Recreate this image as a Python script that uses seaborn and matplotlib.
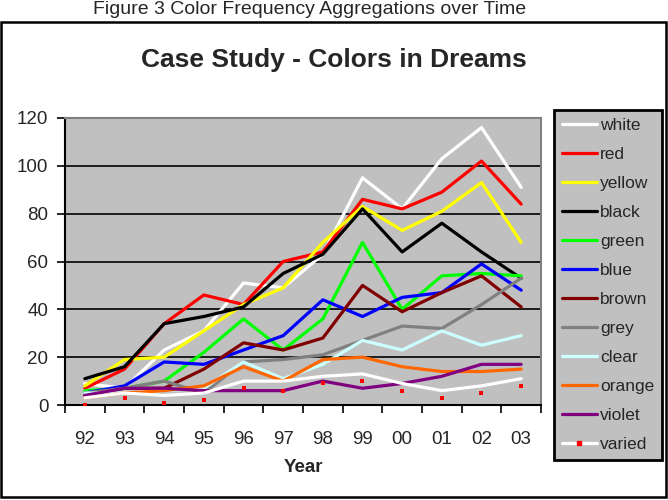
import numpy as np
import pandas as pd
import seaborn as sns
import matplotlib.pyplot as plt
from matplotlib.lines import Line2D
from matplotlib.patches import Rectangle

years = ["92", "93", "94", "95", "96", "97", "98", "99", "00", "01", "02", "03"]

white = [9, 7, 23, 31, 51, 49, 63, 95, 82, 103, 116, 91]
red = [7, 15, 34, 46, 42, 60, 64, 86, 82, 89, 102, 84]
yellow = [8, 19, 20, 31, 42, 49, 68, 83, 73, 81, 93, 68]
black = [11, 16, 34, 37, 41, 55, 63, 82, 64, 76, 64, 53]
green = [6, 7, 10, 22, 36, 23, 36, 68, 40, 54, 55, 54]
blue = [5, 8, 18, 17, 23, 29, 44, 37, 45, 47, 59, 48]
brown = [4, 7, 7, 15, 26, 23, 28, 50, 39, 47, 54, 41]
grey = [5, 7, 10, 5, 18, 19, 21, 27, 33, 32, 42, 53]
clear = [5, 5, 6, 7, 18, 11, 17, 27, 23, 31, 25, 29]
orange = [3, 5, 6, 8, 16, 10, 19, 20, 16, 14, 14, 15]
violet = [4, 7, 7, 6, 6, 6, 10, 7, 9, 12, 17, 17]
varied = [3, 5, 4, 5, 10, 10, 12, 13, 9, 6, 8, 11]
varied_marks = [0, 3, 1, 2, 7, 6, 9, 10, 6, 3, 5, 8]

series = {
    "white": white, "red": red, "yellow": yellow, "black": black,
    "green": green, "blue": blue, "brown": brown, "grey": grey,
    "clear": clear, "orange": orange, "violet": violet, "varied": varied,
}
palette = {
    "white": "#FFFFFF", "red": "#FF0000", "yellow": "#FFFF00", "black": "#000000",
    "green": "#00FF00", "blue": "#0000FF", "brown": "#800000", "grey": "#808080",
    "clear": "#CCFFFF", "orange": "#FF6600", "violet": "#800080", "varied": "#FFFFFF",
}

rows = []
for name, vals in series.items():
    for i, v in enumerate(vals):
        rows.append({"pos": i, "count": v, "color": name})
df = pd.DataFrame(rows)
marks = pd.DataFrame({"pos": np.arange(len(years)), "count": varied_marks})

sns.set_style("white")
plt.rcParams["font.family"] = ["Liberation Sans", "DejaVu Sans"]

fig = plt.figure(figsize=(6.68, 5), dpi=100)
ax = fig.add_axes([65 / 668, 95 / 500, 476 / 668, 287 / 500])
ax.set_facecolor("#C0C0C0")

sns.lineplot(data=df, x="pos", y="count", hue="color", palette=palette,
             hue_order=list(series.keys()), linewidth=2.3, legend=False, ax=ax)
sns.scatterplot(data=marks, x="pos", y="count", color="#FF0000", marker="s",
                s=7, linewidth=0, legend=False, ax=ax, zorder=5)

ax.set_xlim(-0.5, len(years) - 0.5)
ax.set_ylim(0, 120)
ax.set_yticks(range(0, 121, 20))
ax.yaxis.grid(True, color="black", linewidth=1.2)
ax.set_axisbelow(True)
ax.set_xticks(np.arange(-0.5, len(years), 1.0))
ax.set_xticklabels([])
ax.set_xticks(np.arange(len(years)), minor=True)
ax.set_xticklabels(years, minor=True)
ax.tick_params(axis="x", which="major", direction="out", length=6, width=1.2, color="black")
ax.tick_params(axis="x", which="minor", length=0, pad=19, labelsize=13.5)
ax.tick_params(axis="y", direction="out", length=6, width=1.2, color="black", labelsize=13.5, pad=6)
ax.tick_params(left=True, bottom=True)

for side in ["top", "right"]:
    ax.spines[side].set_color("#808080")
    ax.spines[side].set_linewidth(1.5)
for side in ["left", "bottom"]:
    ax.spines[side].set_color("black")
    ax.spines[side].set_linewidth(1.5)

ax.set_xlabel("Year", fontsize=13.5, fontweight="bold", labelpad=8)
ax.set_ylabel("")

handles = []
for name in series:
    if name == "varied":
        handles.append(Line2D([], [], color=palette[name], linewidth=2.3,
                              marker="s", markersize=2.5, markerfacecolor="#FF0000",
                              markeredgecolor="#FF0000"))
    else:
        handles.append(Line2D([], [], color=palette[name], linewidth=2.3))

leg = fig.legend(handles, list(series.keys()), loc="upper left",
                 bbox_to_anchor=(554 / 668, 1 - 110 / 500), fontsize=12.5,
                 frameon=True, fancybox=False, labelspacing=0.8,
                 handlelength=2.0, handletextpad=0.2, borderpad=0.45,
                 borderaxespad=0)
leg.get_frame().set_facecolor("#C0C0C0")
leg.get_frame().set_edgecolor("black")
leg.get_frame().set_linewidth(2)
leg.get_frame().set_alpha(1)

fig.text(310 / 668, 1 - 10 / 500, "Figure 3 Color Frequency Aggregations over Time",
         ha="center", va="center", fontsize=14)
fig.text(0.5, 1 - 60 / 500, "Case Study - Colors in Dreams",
         ha="center", va="center", fontsize=19, fontweight="bold")
fig.add_artist(Rectangle((1 / 668, 3 / 500), 665 / 668, 475 / 500,
                         transform=fig.transFigure, fill=False,
                         edgecolor="black", linewidth=1.8))

fig.savefig("out.png", dpi=100, facecolor="white")
